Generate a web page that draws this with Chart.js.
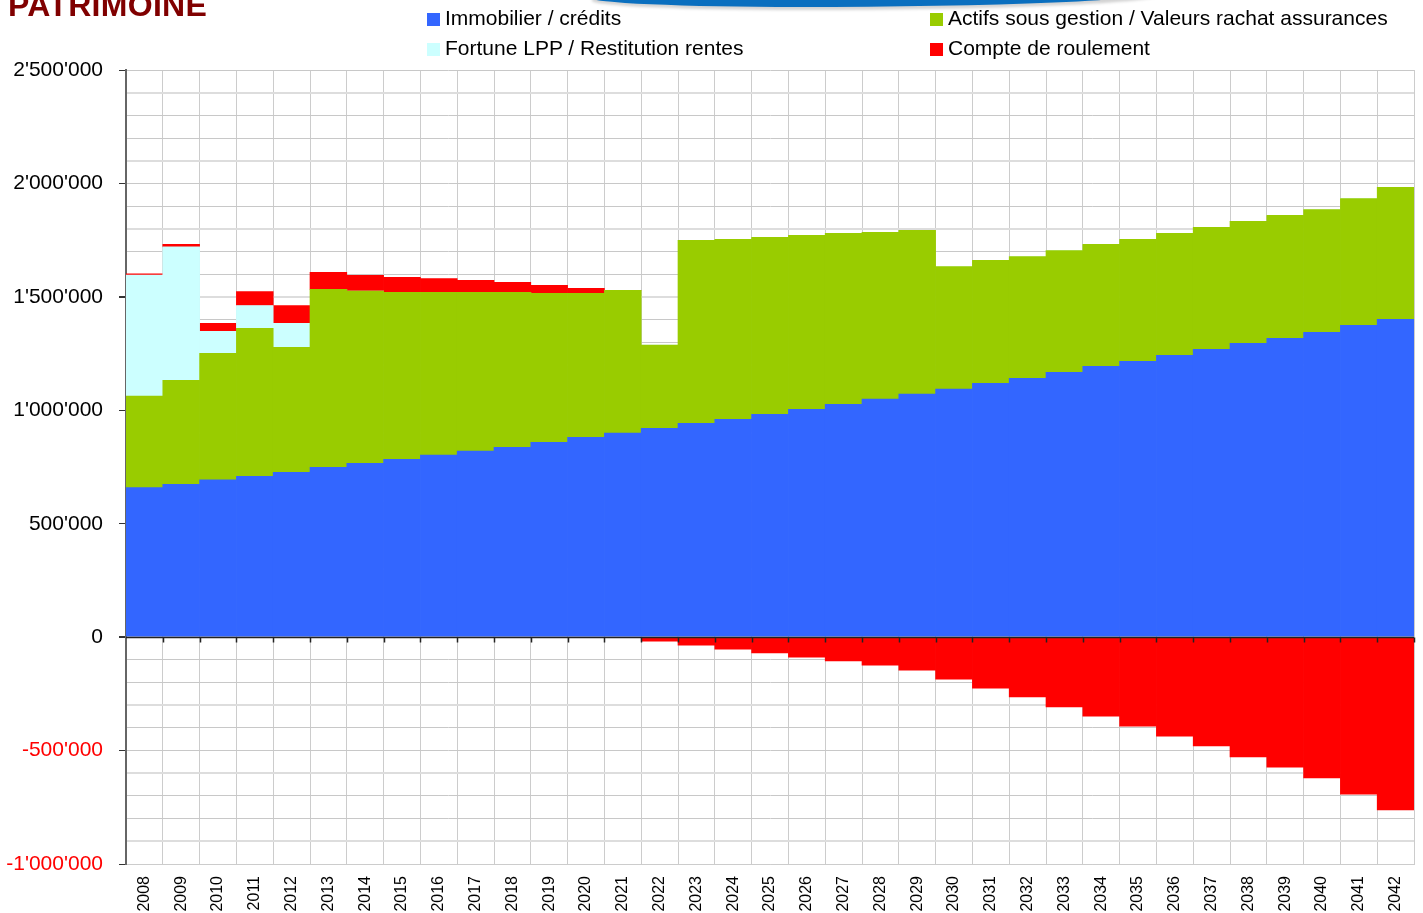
<!DOCTYPE html>
<html>
<head>
<meta charset="utf-8">
<script src="https://cdn.jsdelivr.net/npm/chart.js@4"></script>
<style>
  html, body { margin: 0; padding: 0; background: #fff; overflow: hidden; }
  #wrap { position: relative; width: 1423px; height: 913px; }
  #patrimoine { position: absolute; left: 0; top: 0; }
  #title { position: absolute; left: 8px; top: -11px; font: bold 32px "Liberation Sans", Arial, sans-serif; line-height: 32px; color: #800000; letter-spacing: 0.3px; }
  #swoosh { position: absolute; left: 590px; top: -10px; width: 570px; height: 17px; background: #0a6fbf;
            border-radius: 0 0 70% 40% / 0 0 100% 60%; box-shadow: 2px 3px 3px rgba(0,0,0,0.18); }
  .leg { position: absolute; font: 21px "Liberation Sans", Arial, sans-serif; line-height: 21px; color: #000; white-space: nowrap; }
  .leg span { display: inline-block; width: 13px; height: 13px; margin-right: 5px; vertical-align: -1px; }
</style>
</head>
<body>
<div id="wrap">
  <canvas id="patrimoine" width="1423" height="913"></canvas>
  <div id="swoosh"></div>
  <div id="title">PATRIMOINE</div>
  <div class="leg" style="left:427px; top:7px;"><span style="background:#3366ff"></span>Immobilier / crédits</div>
  <div class="leg" style="left:930px; top:7px;"><span style="background:#99cc00"></span>Actifs sous gestion / Valeurs rachat assurances</div>
  <div class="leg" style="left:427px; top:37px;"><span style="background:#ccffff"></span>Fortune LPP / Restitution rentes</div>
  <div class="leg" style="left:930px; top:37px;"><span style="background:#ff0000"></span>Compte de roulement</div>
</div>
<script>
var years = ['2008','2009','2010','2011','2012','2013','2014','2015','2016','2017','2018','2019','2020','2021',
  '2022','2023','2024','2025','2026','2027','2028','2029','2030','2031','2032','2033','2034','2035',
  '2036','2037','2038','2039','2040','2041','2042'];

// valeurs en milliers de CHF
var immobilier = [659,674,693,709,727,749,766,784,802,820,837,859,881,899,
  921,943,960,982,1004,1026,1049,1071,1093,1119,1141,1167,1194,1216,
  1242,1269,1295,1317,1344,1374,1401];
var actifs = [404,458,558,652,551,784,759,736,718,700,683,657,635,630,
  366,806,794,780,767,754,735,722,541,542,537,537,538,538,
  538,537,538,542,541,559,582];
var fortuneLPP = [533,588,97,101,105,0,0,0,0,0,0,0,0,0,
  0,0,0,0,0,0,0,0,0,0,0,0,0,0,
  0,0,0,0,0,0,0];
var compteRoulement = [6,12,35,61,79,75,70,66,61,53,44,35,22,0,
  -18,-35,-53,-70,-88,-105,-124,-146,-185,-225,-264,-308,-348,-392,
  -436,-480,-528,-573,-621,-692,-762];

function k(arr) { return arr.map(function (v) { return v * 1000; }); }

function fmt(v) {
  var s = Math.abs(v).toString().replace(/\B(?=(\d{3})+(?!\d))/g, "'");
  return (v < 0 ? '-' : '') + s;
}

var zeroLine = {
  id: 'zeroLine',
  afterDatasetsDraw: function (chart) {
    var c = chart.ctx, a = chart.chartArea, x = chart.scales.x;
    var y = Math.round(chart.scales.y.getPixelForValue(0)) + 0.5;
    c.save();
    c.strokeStyle = '#222';
    c.lineWidth = 1.5;
    c.beginPath();
    c.moveTo(a.left, y);
    c.lineTo(a.right, y);
    var w = (x.getPixelForTick(1) - x.getPixelForTick(0)) / 2;
    for (var i = 0; i < years.length; i++) {
      var bx = Math.round(x.getPixelForTick(i) + w) + 0.5;
      c.moveTo(bx, y);
      c.lineTo(bx, y + 5);
    }
    c.stroke();
    c.restore();
  }
};

var ctx = document.getElementById('patrimoine').getContext('2d');
var myChart = new Chart(ctx, {
  type: 'bar',
  data: {
    labels: years,
    datasets: [
      { label: 'Immobilier / crédits', data: k(immobilier), backgroundColor: '#3366ff' },
      { label: 'Actifs sous gestion / Valeurs rachat assurances', data: k(actifs), backgroundColor: '#99cc00' },
      { label: 'Fortune LPP / Restitution rentes', data: k(fortuneLPP), backgroundColor: '#ccffff' },
      { label: 'Compte de roulement', data: k(compteRoulement), backgroundColor: '#ff0000' }
    ]
  },
  options: {
    responsive: false,
    animation: false,
    devicePixelRatio: 1,
    barPercentage: 1,
    categoryPercentage: 1,
    borderWidth: 0,
    layout: { padding: { top: 70, right: 9, left: 0, bottom: 0 } },
    plugins: { legend: { display: false }, tooltip: { enabled: false } },
    scales: {
      x: {
        stacked: true,
        grid: { color: '#cccccc', tickLength: 0 },
        border: { color: '#cccccc' },
        ticks: {
          autoSkip: false, minRotation: 90, maxRotation: 90, padding: 12,
          color: '#000', font: { family: 'Liberation Sans', size: 16 }
        },
        afterFit: function (s) { s.height = 49; s.paddingLeft = 0; s.paddingRight = 0; }
      },
      y: {
        stacked: true,
        min: -1000000,
        max: 2500000,
        grid: {
          color: function (c) { return c.tick.value % 300000 === 0 ? '#dddddd' : '#c8c8c8'; },
          lineWidth: function (c) { return c.tick.value % 300000 === 0 ? 2 : 1; },
          tickLength: 7,
          tickColor: function (c) { return c.tick.value % 500000 === 0 ? '#333' : 'rgba(0,0,0,0)'; }
        },
        border: { color: '#666', width: 2 },
        ticks: {
          stepSize: 100000,
          autoSkip: false,
          padding: 16,
          font: { family: 'Liberation Sans', size: 21 },
          color: function (c) { return c.tick.value < 0 ? '#ff0000' : '#000'; },
          callback: function (v) { return v % 500000 === 0 ? fmt(v) : ''; }
        },
        afterFit: function (s) { s.width = 126; }
      }
    }
  },
  plugins: [zeroLine]
});
</script>
</body>
</html>
